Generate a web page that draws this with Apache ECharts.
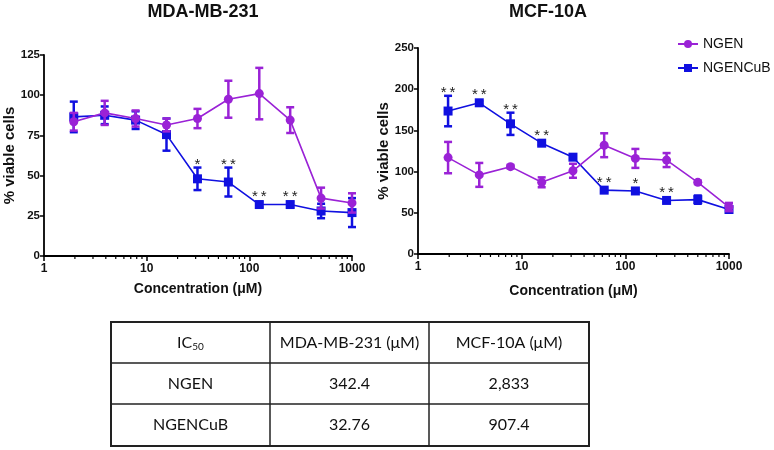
<!DOCTYPE html>
<html>
<head>
<meta charset="utf-8">
<script src="https://cdn.jsdelivr.net/npm/echarts@6/dist/echarts.min.js"></script>
<style>
  html, body { margin: 0; padding: 0; background: #fff; }
  #main { width: 774px; height: 450px; }
</style>
</head>
<body>
<div id="main"></div>
<script>
// concentrations (µM)
var conc = [1.95, 3.9, 7.8, 15.6, 31.25, 62.5, 125, 250, 500, 1000];

// MDA-MB-231
var mdaNgen = [83.5, 89, 85.5, 81.5, 85.5, 97.5, 101, 84.5, 36, 33];
var mdaNgenErr = [5.5, 7.5, 5, 4, 6, 11.5, 16, 8, 6.5, 6];
var mdaCub = [86.5, 87.5, 84.5, 75.5, 48, 46, 32, 32, 28, 27];
var mdaCubErr = [9.5, 5.5, 5.5, 10, 7, 9, 1.5, 1.5, 4.5, 9];
var mdaSig = ['', '', '', '', '*', '**', '**', '**', '', ''];

// MCF-10A
var mcfNgen = [117, 96, 106, 87, 101, 132, 116, 114, 87, 57];
var mcfNgenErr = [19, 14.5, 2, 6, 8.5, 14.5, 11.5, 8.5, 2, 5];
var mcfCub = [173.5, 183.5, 158, 134.5, 117.5, 77.5, 76.5, 65, 66, 54];
var mcfCubErr = [18.5, 2, 13.5, 2, 2, 2, 2, 2, 5, 2];
var mcfSig = ['**', '**', '**', '**', '', '**', '*', '**', '', ''];

var minorTicks = [2, 3, 4, 5, 6, 7, 8, 9, 20, 30, 40, 50, 60, 70, 80, 90, 200, 300, 400, 500, 600, 700, 800, 900];

// IC50 table
var tableHead = ['IC{sub|50}', 'MDA-MB-231 (μM)', 'MCF-10A (μM)'];
var tableRows = [
    ['NGEN', '342.4', '2,833'],
    ['NGENCuB', '32.76', '907.4']
];

var PURPLE = '#9A22D6';
var BLUE = '#1010E0';
var FONT = 'Liberation Sans, Arial, sans-serif';

var myChart = echarts.init(document.getElementById('main'));

function pts(means) {
    return conc.map(function (c, i) { return [c, means[i]]; });
}

function errSeries(name, means, errs, color, gi, z) {
    return {
        name: name,
        type: 'custom',
        xAxisIndex: gi,
        yAxisIndex: gi,
        z: z,
        silent: true,
        clip: false,
        data: conc.map(function (c, i) { return [c, means[i], errs[i]]; }),
        encode: { x: 0, y: 1 },
        renderItem: function (params, api) {
            var x = api.value(0), y = api.value(1), e = api.value(2);
            var top = api.coord([x, y + e]);
            var bot = api.coord([x, y - e]);
            var hw = 4;
            var st = { stroke: color, lineWidth: 2.5 };
            return {
                type: 'group',
                children: [
                    { type: 'line', shape: { x1: top[0], y1: top[1], x2: bot[0], y2: bot[1] }, style: st },
                    { type: 'line', shape: { x1: top[0] - hw, y1: top[1], x2: top[0] + hw, y2: top[1] }, style: st },
                    { type: 'line', shape: { x1: bot[0] - hw, y1: bot[1], x2: bot[0] + hw, y2: bot[1] }, style: st }
                ]
            };
        }
    };
}

// significance stars above the NGENCuB points
function starSeries(means, errs, sig, gi) {
    return {
        type: 'custom',
        xAxisIndex: gi,
        yAxisIndex: gi,
        z: 10,
        silent: true,
        clip: false,
        data: conc.map(function (c, i) { return [c, means[i], errs[i]]; }),
        encode: { x: 0, y: 1 },
        renderItem: function (params, api) {
            var s = sig[params.dataIndex];
            if (!s) return null;
            var x = api.value(0), y = api.value(1), e = api.value(2);
            var top = api.coord([x, y + e]);
            var pt = api.coord([x, y]);
            var anchor = Math.min(top[1], pt[1] - 5);
            return {
                type: 'text',
                x: pt[0],
                y: anchor + 5,
                style: {
                    text: s.split('').join('\u2009'),
                    fill: '#222',
                    font: '15px ' + FONT,
                    align: 'center',
                    verticalAlign: 'bottom'
                }
            };
        }
    };
}

function minorTickSeries(gi) {
    return {
        type: 'custom',
        xAxisIndex: gi,
        yAxisIndex: gi,
        silent: true,
        clip: false,
        data: minorTicks.map(function (t) { return [t, 0]; }),
        encode: { x: 0, y: 1 },
        renderItem: function (params, api) {
            var p = api.coord([api.value(0), 0]);
            return {
                type: 'line',
                shape: { x1: p[0], y1: p[1], x2: p[0], y2: p[1] + 3 },
                style: { stroke: '#000', lineWidth: 1.2 }
            };
        }
    };
}

function lineSeries(name, means, color, symbol, gi, z) {
    return {
        name: name,
        type: 'line',
        xAxisIndex: gi,
        yAxisIndex: gi,
        z: z,
        data: pts(means),
        symbol: symbol,
        symbolSize: 9,
        showSymbol: true,
        itemStyle: { color: color },
        lineStyle: { color: color, width: 1.6 },
        emphasis: { disabled: true },
        animation: false
    };
}

function xAxisOpt(gi, nameGap) {
    return {
        type: 'log',
        logBase: 10,
        gridIndex: gi,
        min: 1,
        max: 1000,
        name: 'Concentration (μM)',
        nameLocation: 'middle',
        nameGap: nameGap,
        nameTextStyle: { fontFamily: FONT, fontWeight: 'bold', fontSize: 14, color: '#111' },
        axisLine: { lineStyle: { color: '#000', width: 1.8 } },
        axisTick: { show: true, length: 5, lineStyle: { color: '#000', width: 1.5 } },
        axisLabel: {
            fontFamily: FONT, fontWeight: 'bold', fontSize: 12, color: '#111', margin: 7,
            formatter: function (v) { return String(Math.round(v)); }
        },
        splitLine: { show: false },
        minorTick: { show: false },
        minorSplitLine: { show: false }
    };
}

function yAxisOpt(gi, max, interval, nameGap) {
    return {
        type: 'value',
        gridIndex: gi,
        min: 0,
        max: max,
        interval: interval,
        name: '% viable cells',
        nameLocation: 'middle',
        nameRotate: 90,
        nameGap: nameGap,
        nameTextStyle: { fontFamily: FONT, fontWeight: 'bold', fontSize: 15, color: '#111' },
        axisLine: { show: true, lineStyle: { color: '#000', width: 1.8 } },
        axisTick: { show: true, length: 4, lineStyle: { color: '#000', width: 1.5 } },
        axisLabel: { fontFamily: FONT, fontWeight: 'bold', fontSize: 11.5, color: '#111', margin: 4 },
        splitLine: { show: false }
    };
}

// table graphics
var colX = [111, 270, 429, 589];
var rowY = [322, 363, 404, 446];
var graphics = [];
graphics.push({
    type: 'rect',
    shape: { x: colX[0], y: rowY[0], width: colX[3] - colX[0], height: rowY[3] - rowY[0] },
    style: { fill: 'none', stroke: '#222', lineWidth: 2 }
});
[1, 2].forEach(function (i) {
    graphics.push({ type: 'line', shape: { x1: colX[i], y1: rowY[0], x2: colX[i], y2: rowY[3] }, style: { stroke: '#222', lineWidth: 1.5 } });
    graphics.push({ type: 'line', shape: { x1: colX[0], y1: rowY[i], x2: colX[3], y2: rowY[i] }, style: { stroke: '#222', lineWidth: 1.5 } });
});
var allRows = [tableHead].concat(tableRows);
allRows.forEach(function (row, r) {
    row.forEach(function (txt, c) {
        graphics.push({
            type: 'text',
            x: (colX[c] + colX[c + 1]) / 2,
            y: (rowY[r] + rowY[r + 1]) / 2,
            style: {
                text: txt,
                fill: '#111',
                fontFamily: 'Lato, Open Sans, sans-serif',
                fontSize: 16,
                align: 'center',
                verticalAlign: 'middle',
                rich: {
                    sub: { fontFamily: 'Lato, sans-serif', fontSize: 10, verticalAlign: 'bottom', padding: [8, 0, 0, 0], fill: '#111' }
                }
            }
        });
    });
});

var option = {
    animation: false,
    backgroundColor: '#fff',
    title: [
        { text: 'MDA-MB-231', left: 198, top: -2, textAlign: 'center',
          textStyle: { fontFamily: FONT, fontWeight: 'bold', fontSize: 18, color: '#111' } },
        { text: 'MCF-10A', left: 543, top: -2, textAlign: 'center',
          textStyle: { fontFamily: FONT, fontWeight: 'bold', fontSize: 18, color: '#111' } }
    ],
    legend: {
        data: ['NGEN', 'NGENCuB'],
        orient: 'vertical',
        left: 672,
        top: 32,
        itemGap: 10,
        itemWidth: 20,
        itemHeight: 10,
        selectedMode: false,
        textStyle: { fontFamily: FONT, fontSize: 14, color: '#111' }
    },
    grid: [
        { left: 44, top: 55, width: 308, height: 201, outerBoundsMode: 'none' },
        { left: 418, top: 48, width: 311, height: 206, outerBoundsMode: 'none' }
    ],
    xAxis: [xAxisOpt(0, 26), xAxisOpt(1, 30)],
    yAxis: [yAxisOpt(0, 125, 25, 26), yAxisOpt(1, 250, 50, 27)],
    graphic: graphics,
    series: [
        minorTickSeries(0),
        minorTickSeries(1),
        errSeries('errCub1', mdaCub, mdaCubErr, BLUE, 0, 3),
        lineSeries('NGENCuB', mdaCub, BLUE, 'rect', 0, 4),
        errSeries('errNgen1', mdaNgen, mdaNgenErr, PURPLE, 0, 5),
        lineSeries('NGEN', mdaNgen, PURPLE, 'circle', 0, 6),
        starSeries(mdaCub, mdaCubErr, mdaSig, 0),
        errSeries('errCub2', mcfCub, mcfCubErr, BLUE, 1, 3),
        lineSeries('NGENCuB', mcfCub, BLUE, 'rect', 1, 4),
        errSeries('errNgen2', mcfNgen, mcfNgenErr, PURPLE, 1, 5),
        lineSeries('NGEN', mcfNgen, PURPLE, 'circle', 1, 6),
        starSeries(mcfCub, mcfCubErr, mcfSig, 1)
    ]
};

myChart.setOption(option);
</script>
</body>
</html>
